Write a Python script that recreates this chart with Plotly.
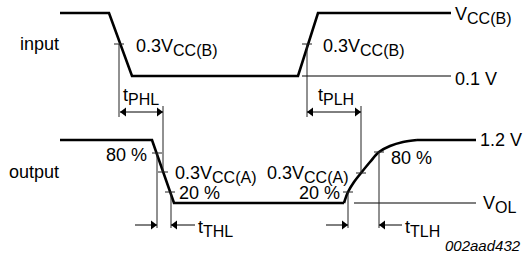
import plotly.graph_objects as go

FONT = "Liberation Sans, Arial, sans-serif"

# ---- waveform data (time units, level units on the drawing grid) ----
in_t = [60, 109, 132, 298, 318, 451]
in_v = [13, 13, 76, 76, 13, 13]

out_fall_t = [60, 152, 174, 344]
out_fall_v = [140, 140, 203, 203]

out_rise_t = [344, 348, 354, 361, 370, 379, 390, 403, 417]
out_rise_v = [203, 192, 182, 173, 162, 152, 146, 142, 140]

out_high_t = [417, 476]
out_high_v = [140, 140]

# reference levels
ref_01_t = [302, 451]
ref_01_v = [76, 76]
ref_vol_t = [354, 476]
ref_vol_v = [203, 203]

# measurement crossings (t, level) and guide lines
cross_t = [119, 307, 157, 163, 170, 348, 361, 379]
cross_v = [44, 44, 153, 172, 192, 192, 173, 152]
guide_t = [119, 307, 157, 171, 348, 379, 163, 361]
guide_top = [44, 44, 153, 192, 192, 152, 106, 106]
guide_bot = [117, 117, 228, 228, 228, 228, 172, 173]

# timing arrows: shaft start, shaft end, level, head at start?, head at end?
arr_t0 = [120, 307, 135, 171, 326, 379]
arr_t1 = [163, 361, 157, 195, 348, 402]
arr_v = [112, 112, 225, 225, 225, 225]
arr_head0 = [True, True, False, True, False, True]
arr_head1 = [True, True, True, False, True, False]

fig = go.Figure()

def line(x, y, w, shape="linear", color="black"):
    fig.add_trace(go.Scatter(x=x, y=y, mode="lines",
                             line=dict(color=color, width=w, shape=shape,
                                       smoothing=1.0),
                             hoverinfo="skip", showlegend=False))

line(in_t, in_v, 2.6)
line(out_fall_t, out_fall_v, 2.6)
line(out_rise_t, out_rise_v, 2.6, "spline")
line(out_high_t, out_high_v, 2.6)
line(ref_01_t, ref_01_v, 1.1)
line(ref_vol_t, ref_vol_v, 1.1)

shapes = []
for gx, gt, gb in zip(guide_t, guide_top, guide_bot):
    shapes.append(dict(type="line", xref="x", yref="y", x0=gx, x1=gx, y0=gt, y1=gb,
                       line=dict(color="#222", width=1)))
for cx, cv in zip(cross_t, cross_v):
    shapes.append(dict(type="line", xref="x", yref="y", x0=cx - 5, x1=cx + 5, y0=cv, y1=cv,
                       line=dict(color="#222", width=1)))

# arrow shafts and heads
HEAD = 4
hx, hy, hs = [], [], []
for t0, t1, v, h0, h1 in zip(arr_t0, arr_t1, arr_v, arr_head0, arr_head1):
    shapes.append(dict(type="line", xref="x", yref="y", x0=t0, x1=t1, y0=v, y1=v,
                       line=dict(color="black", width=1)))
    if h0:
        hx.append(t0 + HEAD); hy.append(v); hs.append("triangle-left")
    if h1:
        hx.append(t1 - HEAD); hy.append(v); hs.append("triangle-right")
fig.add_trace(go.Scatter(x=hx, y=hy, mode="markers",
                         marker=dict(symbol=hs, size=8, color="black",
                                     line=dict(width=0)),
                         hoverinfo="skip", showlegend=False))

ann = []
SUB = '<sub><span style="font-size:16px">%s</span></sub>'

def text(x, y, s, anchor="left", size=18, italic=False):
    ann.append(dict(x=x, y=y, xref="x", yref="y", text=s, showarrow=False,
                    xanchor=anchor, yanchor="middle",
                    font=dict(family=FONT, size=size, color="black",
                              style="italic" if italic else "normal")))

text(61, 44, "input", "right")
text(61, 172, "output", "right")
text(134, 47, "0.3V" + SUB % "CC(B)")
text(321, 47, "0.3V" + SUB % "CC(B)")
text(453, 15, "V" + SUB % "CC(B)")
text(453, 79, "0.1 V")
text(121, 96, "t" + SUB % "PHL")
text(316, 96, "t" + SUB % "PLH")
text(149, 155, "80 %", "right")
text(173, 174, "0.3V" + SUB % "CC(A)")
text(177, 193, "20 %")
text(350, 174, "0.3V" + SUB % "CC(A)", "right")
text(342, 193, "20 %", "right")
text(389, 158, "80 %")
text(478, 140, "1.2 V")
text(481, 204, "V" + SUB % "OL")
text(196, 228, "t" + SUB % "THL")
text(403, 228, "t" + SUB % "TLH")
text(523, 245, "002aad432", "right", 15, True)

fig.update_layout(
    width=528, height=265, autosize=False,
    margin=dict(l=0, r=0, t=0, b=0),
    paper_bgcolor="white", plot_bgcolor="white",
    xaxis=dict(range=[0, 528], visible=False, fixedrange=True),
    yaxis=dict(range=[265, 0], visible=False, fixedrange=True),
    shapes=shapes, annotations=ann,
)
fig.write_html("out.html", config={"displayModeBar": False},
               post_script="document.body.style.margin='0';document.body.style.overflow='hidden';")
